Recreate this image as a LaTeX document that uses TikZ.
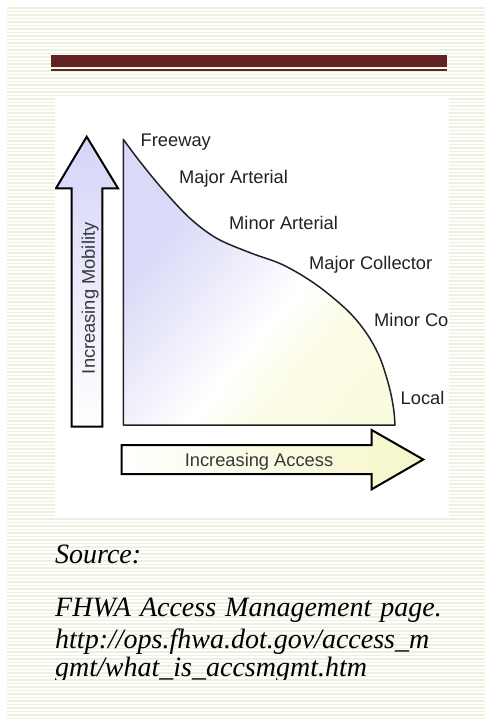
\documentclass[tikz,border=0pt]{standalone}
\usepackage{fontspec}
\setmainfont{Liberation Serif}
\newfontfamily\lsans{Liberation Sans}
\definecolor{stripe}{RGB}{234,241,221}
\definecolor{barred}{RGB}{98,36,35}
\definecolor{lav}{RGB}{212,212,248}
\definecolor{reglav}{RGB}{218,218,248}
\definecolor{yel}{RGB}{250,250,215}
\definecolor{arrowyel}{RGB}{246,246,200}
\definecolor{ink}{RGB}{34,34,34}
\definecolor{graytext}{RGB}{56,56,56}
\pgfdeclarehorizontalshading{lavyel}{100bp}{color(0bp)=(reglav); color(32bp)=(reglav); color(46bp)=(reglav!45!white); color(56bp)=(white); color(66bp)=(yel!60!white); color(100bp)=(yel)}
\tikzset{
  lbl/.style={inner sep=0pt, anchor=base west, font=\lsans\fontsize{18.3}{20}\selectfont, text=ink},
  arrlbl/.style={inner sep=0pt, anchor=base, font=\lsans\fontsize{18.3}{20}\selectfont, text=graytext},
  src/.style={inner sep=0pt, anchor=base west, font=\itshape\fontsize{28}{32}\selectfont, text=black},
  arrowshape/.style={draw=black, line width=2pt, line join=miter},
  region/.style={draw=ink, line width=1.5pt, line join=round}
}
\begin{document}
\begin{tikzpicture}[x=1pt,y=-1pt]
\useasboundingbox (0,0) rectangle (485,721);
\fill[white] (0,0) rectangle (485,721);
% striped background
\foreach \i in {0,...,204} {
  \fill[stripe] (7,7+3.5*\i) rectangle (485,7+3.5*\i+1.7);
}
% title bar
\fill[barred] (51,55) rectangle (447,67);
\fill[barred] (51,69) rectangle (447,71);
% image area
\fill[white] (55,97) rectangle (449,517);
\begin{scope}
\clip (55,97) rectangle (449,517);
% region under curve
\shade[shading=lavyel, shading angle=-40]
  (123.3,425) -- plot[smooth, tension=0.55] coordinates {(123.3,139.3) (140,161.7) (163.3,190) (190,218.3) (216.7,238.3) (250,252.7) (283.3,265) (316.7,285) (348,311) (367,334) (380,358) (389,386) (393.5,408) (395,425)}
  -- cycle;
\draw[region]
  (123.3,425) -- plot[smooth, tension=0.55] coordinates {(123.3,139.3) (140,161.7) (163.3,190) (190,218.3) (216.7,238.3) (250,252.7) (283.3,265) (316.7,285) (348,311) (367,334) (380,358) (389,386) (393.5,408) (395,425)}
  -- cycle;
% vertical arrow
\shade[top color=lav, bottom color=white]
  (86.7,136.7) -- (118,188.3) -- (102.3,188.3) -- (102.3,426.7) -- (71.7,426.7) -- (71.7,188.3) -- (56,188.3) -- cycle;
\draw[arrowshape]
  (86.7,136.7) -- (118,188.3) -- (102.3,188.3) -- (102.3,426.7) -- (71.7,426.7) -- (71.7,188.3) -- (56,188.3) -- cycle;
\node[arrlbl, rotate=90] (mob) at (94.8,298.3) {Increasing Mobility};
% horizontal arrow
\shade[left color=white, right color=arrowyel]
  (121.7,445) -- (371.7,445) -- (371.7,430) -- (423.3,459.5) -- (371.7,489.3) -- (371.7,474) -- (121.7,474) -- cycle;
\draw[arrowshape]
  (121.7,445) -- (371.7,445) -- (371.7,430) -- (423.3,459.5) -- (371.7,489.3) -- (371.7,474) -- (121.7,474) -- cycle;
\node[arrlbl] (acc) at (259,466) {Increasing Access};
% labels
\node[lbl] (fw) at (140.5,146) {Freeway};
\node[lbl] (maja) at (179,183.2) {Major Arterial};
\node[lbl] (mina) at (229,229.2) {Minor Arterial};
\node[lbl] (majc) at (309,269.2) {Major Collector};
\node[lbl] (minc) at (374,326.5) {Minor Co};
\node[lbl] (loc) at (400.5,404.2) {Local};
\end{scope}
% source text
\begin{scope}
\clip (0,0) rectangle (485,679.5);
\node[src] (s0) at (55,563.3) {Source:};
\node[src] (s1) at (55,616) {\makebox[386.7pt][s]{FHWA Access Management page.}};
\node[src] (s2) at (55,648.3) {http://ops.fhwa.dot.gov/access\_m};
\node[src] (s3) at (55,676.7) {gmt/what\_is\_accsmgmt.htm};
\end{scope}
\end{tikzpicture}
\end{document}
